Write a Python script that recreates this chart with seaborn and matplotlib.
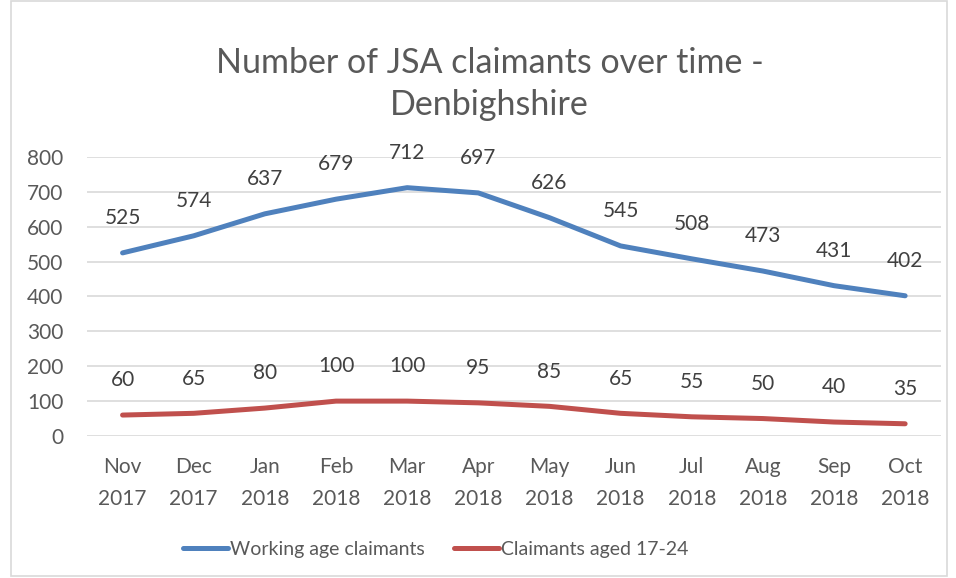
import pandas as pd
import numpy as np
import matplotlib
matplotlib.use("Agg")
import matplotlib.pyplot as plt
import seaborn as sns
from matplotlib.patches import Rectangle

# Data
months = ["Nov\n2017", "Dec\n2017", "Jan\n2018", "Feb\n2018", "Mar\n2018", "Apr\n2018",
          "May\n2018", "Jun\n2018", "Jul\n2018", "Aug\n2018", "Sep\n2018", "Oct\n2018"]
working_age = [525, 574, 637, 679, 712, 697, 626, 545, 508, 473, 431, 402]
aged_17_24 = [60, 65, 80, 100, 100, 95, 85, 65, 55, 50, 40, 35]
series_names = ["Working age claimants", "Claimants aged 17-24"]
colors = ["#4F81BD", "#C0504D"]
title = "Number of JSA claimants over time -\nDenbighshire"

sns.set_style("white")
plt.rcParams["font.family"] = ["Lato", "DejaVu Sans"]
text_col = "#595959"
grid_col = "#D9D9D9"

df = pd.DataFrame({
    "idx": list(range(len(months))) * 2,
    "value": working_age + aged_17_24,
    "series": [series_names[0]] * len(months) + [series_names[1]] * len(months),
})

fig = plt.figure(figsize=(9.56, 5.78), dpi=100)
ax = fig.add_axes([0.091, 0.2457, 0.893, 0.4827])

sns.lineplot(data=df, x="idx", y="value", hue="series", palette=colors,
             linewidth=3.6, ax=ax, legend=True, solid_capstyle="round")

# data labels above each point
for vals in (working_age, aged_17_24):
    for i, v in enumerate(vals):
        ax.annotate(str(v), (i, v), xytext=(0, 25), textcoords="offset points",
                    ha="center", va="center", fontsize=15, color="#404040")

ax.set_xlim(-0.5, len(months) - 0.5)
ax.set_ylim(0, 800)
ax.set_yticks(np.arange(0, 801, 100))
ax.set_xticks(range(len(months)))
ax.set_xticklabels(months)
ax.tick_params(axis="y", length=0, pad=17, labelsize=15, labelcolor=text_col)
ax.tick_params(axis="x", length=0, pad=15, labelsize=15, labelcolor=text_col)
for lab in ax.get_xticklabels():
    lab.set_linespacing(1.75)
ax.set_xlabel("")
ax.set_ylabel("")
ax.grid(axis="y", color=grid_col, linewidth=1.2)
ax.set_axisbelow(True)
for s in ax.spines.values():
    s.set_visible(False)

handles, labels = ax.get_legend_handles_labels()
ax.legend_.remove()
fig.legend(handles, labels, loc="center", bbox_to_anchor=(0.456, 0.05), ncol=2,
           frameon=False, fontsize=14, labelcolor=text_col, handlelength=2.3,
           handletextpad=0.12, columnspacing=1.5)

fig.suptitle(title, x=0.512, y=0.855, va="center", fontsize=24.5, color=text_col,
             linespacing=1.4)

# chart frame
fig.patches.append(Rectangle((0.011, 0.003), 0.98, 0.995, transform=fig.transFigure,
                             fill=False, edgecolor=grid_col, linewidth=1.2))

fig.savefig("out.png", dpi=100)
